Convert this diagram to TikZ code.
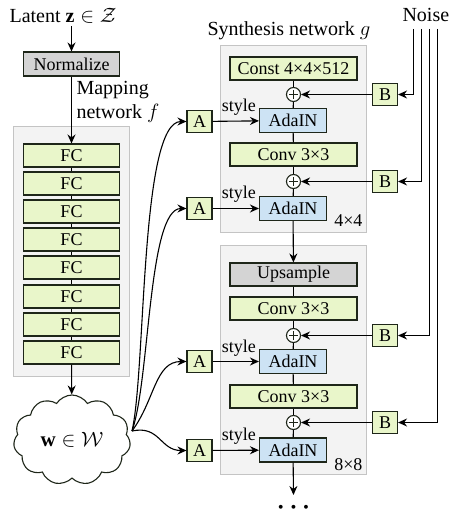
\documentclass[tikz,border=0pt]{standalone}
\usepackage{fontspec}
\setmainfont{Liberation Serif}
\newfontfamily\tms{Liberation Serif}
\usetikzlibrary{arrows.meta,shapes.symbols}
\definecolor{gfill}{RGB}{233,246,202}
\definecolor{bfill}{RGB}{205,227,244}
\definecolor{grfill}{RGB}{212,212,212}
\definecolor{cfill}{RGB}{243,243,243}
\definecolor{cdraw}{RGB}{196,196,196}
\definecolor{bdr}{RGB}{30,38,25}
\begin{document}
\begin{tikzpicture}[x=1pt,y=-1pt,
  >={Stealth[length=9pt,width=8pt,inset=3pt]},
  line width=1.1pt,
  box/.style={draw=bdr, line width=1.1pt, inner sep=0pt, minimum height=23pt,
    font=\tms\fontsize{18}{18}\selectfont},
  fcbox/.style={box, fill=gfill, minimum width=96pt},
  graybox/.style={box, fill=grfill},
  convbox/.style={box, fill=gfill, minimum width=127pt},
  adabox/.style={box, fill=bfill, minimum width=67pt, minimum height=24pt},
  abbox/.style={box, fill=gfill, minimum width=25pt, minimum height=22pt},
  container/.style={draw=cdraw, fill=cfill, line width=0.9pt},
  plusnode/.style={circle, draw=bdr, fill=white, minimum size=14pt, inner sep=0pt,
    path picture={\draw[line width=0.8pt] ([xshift=-4.5pt]path picture bounding box.center) -- ([xshift=4.5pt]path picture bounding box.center);
      \draw[line width=0.8pt] ([yshift=-4.5pt]path picture bounding box.center) -- ([yshift=4.5pt]path picture bounding box.center);}},
  head/.style={font=\tms\fontsize{20}{20}\selectfont, inner sep=0pt},
  lbl/.style={font=\tms\fontsize{18}{18}\selectfont, inner sep=0pt},
  dotsstyle/.style={font=\fontsize{28}{28}\selectfont\boldmath, inner sep=0pt},
]
\useasboundingbox (0,0) rectangle (464,518);

% containers
\draw[container] (13.5,126) rectangle (129.5,376);
\draw[container] (220.5,45) rectangle (366.5,232);
\draw[container] (220.5,245) rectangle (366.5,474);

% headings
\node[head, anchor=base west] (latent) at (9,22.7) {Latent $\mathbf{z}\in\mathcal{Z}$};
\node[head, anchor=base west] (synth) at (207,36) {Synthesis network $g$};
\node[head, anchor=base west] (noise) at (402,21.7) {Noise};
\node[head, anchor=base west] (map1) at (76,94.3) {Mapping};
\node[head, anchor=base west] (map2) at (76,118.3) {network $f$};

% mapping network
\node[graybox, minimum width=96pt, minimum height=24pt] (norm) at (71.5,64) {Normalize};
\foreach \i/\y in {1/155.5,2/183.5,3/211.5,4/239.5,5/267.5,6/296.5,7/324.5,8/352.5}
  \node[fcbox] (fc\i) at (71.5,\y) {FC};
\draw[->] (latent.south -| norm) ++(0,2) coordinate (lt) -- (norm);
\draw[->] (norm) -- (fc1);
\foreach \a/\b in {1/2,2/3,3/4,4/5,5/6,6/7,7/8}
  \draw (fc\a) -- (fc\b);

\node[cloud, draw=bdr, fill=white, cloud puffs=11, cloud puff arc=115, cloud ignores aspect,
  minimum width=117pt, minimum height=90pt, inner sep=0pt,
  font=\fontsize{21}{21}\selectfont] (w) at (72,440) {$\mathbf{w}\in\mathcal{W}$};
\draw[->] (fc8) -- (w);

% synthesis block 4x4
\node[convbox] (const) at (293.5,68.5) {Const 4×4×512};
\node[plusnode] (p1) at (293.5,94.5) {};
\node[adabox] (ada1) at (293,120.5) {AdaIN};
\node[convbox] (conv1) at (293.5,154.5) {Conv 3×3};
\node[plusnode] (p2) at (293.5,181.5) {};
\node[adabox] (ada2) at (293,208.5) {AdaIN};
\node[lbl, anchor=base east] (l44) at (363,226.5) {4×4};

% synthesis block 8x8
\node[graybox, minimum width=127pt] (up) at (293.5,274.5) {Upsample};
\node[convbox] (conv2) at (293.5,308.5) {Conv 3×3};
\node[plusnode] (p3) at (293.5,335.5) {};
\node[adabox] (ada3) at (293,361.5) {AdaIN};
\node[convbox] (conv3) at (293.5,396.5) {Conv 3×3};
\node[plusnode] (p4) at (293.5,422.5) {};
\node[adabox] (ada4) at (293,450) {AdaIN};
\node[lbl, anchor=base east] (l88) at (363,470) {8×8};

\draw (const) -- (p1); \draw (p1) -- (ada1);
\draw (ada1) -- (conv1); \draw (conv1) -- (p2); \draw (p2) -- (ada2);
\draw[->] (ada2) -- (up);
\draw (up) -- (conv2); \draw (conv2) -- (p3); \draw (p3) -- (ada3);
\draw (ada3) -- (conv3); \draw (conv3) -- (p4); \draw (p4) -- (ada4);
\coordinate (outend) at (293.5,495);
\draw[->] (ada4) -- (outend);
\node[dotsstyle] (dots) at (293.5,508) {$\cdots$};

% A and B boxes
\node[abbox] (A1) at (199.5,121.5) {A};
\node[abbox] (A2) at (199.5,208.5) {A};
\node[abbox] (A3) at (199.5,361.5) {A};
\node[abbox] (A4) at (199.5,450.5) {A};
\node[abbox] (B1) at (385,94.5) {B};
\node[abbox] (B2) at (385,181.5) {B};
\node[abbox] (B3) at (385,335.5) {B};
\node[abbox] (B4) at (385,422.5) {B};

\foreach \i in {1,2,3,4}
  \draw[->] (A\i) -- node[lbl, midway, anchor=base, yshift=9.5pt, xshift=3pt] {style} (ada\i);
\foreach \i in {1,2,3,4}
  \draw[->] (B\i) -- (p\i);

% noise lines
\coordinate (n1) at (413.5,29);
\coordinate (n2) at (421.5,29);
\coordinate (n3) at (429.5,29);
\coordinate (n4) at (437.5,29);
\foreach \i in {1,2,3,4}
  \draw[->] (n\i) |- (B\i);

% style curves
\coordinate (ws) at (132,431);
\draw[->] (ws) .. controls (146,370) and (140,121.5) .. (A1.west);
\draw[->] (ws) .. controls (150,380) and (148,208.5) .. (A2.west);
\draw[->] (ws) .. controls (155,400) and (155,361.5) .. (A3.west);
\draw[->] (ws) .. controls (160,425) and (160,450.5) .. (A4.west);
\end{tikzpicture}
\end{document}
